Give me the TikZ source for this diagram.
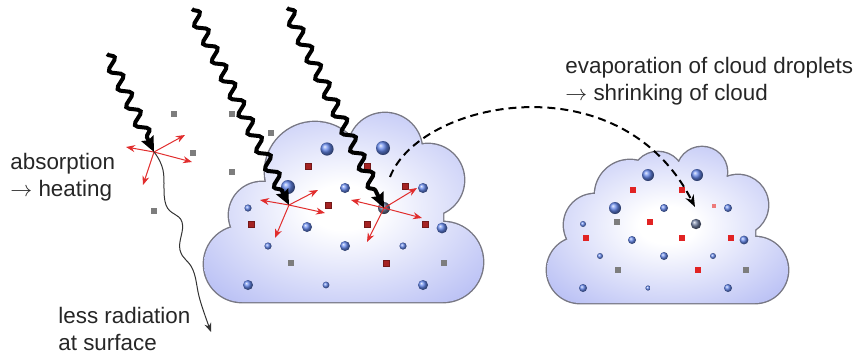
\documentclass[tikz,border=0pt]{standalone}
\usepackage{fontspec}
\setmainfont{Liberation Sans}
\usetikzlibrary{arrows.meta,decorations.pathmorphing}

\definecolor{cloudblue}{RGB}{182,189,244}
\definecolor{cloudedge}{RGB}{120,120,132}
\definecolor{dropblue}{RGB}{100,135,235}
\definecolor{dropgray}{RGB}{110,125,160}
\definecolor{rust}{RGB}{165,35,35}
\definecolor{brightred}{RGB}{225,35,35}
\definecolor{scatred}{RGB}{225,45,45}
\definecolor{aerogray}{RGB}{125,125,125}

\pgfdeclareradialshading{cloudglow}{\pgfpoint{0bp}{0bp}}{%
  color(0bp)=(white); color(6bp)=(white);
  color(34bp)=(cloudblue); color(50bp)=(cloudblue)}

\begin{document}
\begin{tikzpicture}[
  x=0.5pt, y=-0.5pt,
  every node/.style={font=\fontsize{11.2}{13.5}\selectfont, text=black!85, inner sep=0pt},
  note/.style={align=left, anchor=west},
  photon/.style={line width=2pt, decorate,
    decoration={snake, amplitude=2.8pt, segment length=10pt, post length=5pt},
    -{Stealth[length=7.5pt,width=6.5pt,inset=1pt]}},
  scatter/.style={scatred, line width=0.5pt, -{Stealth[length=4.5pt,width=3.5pt]}},
  weakray/.style={black!80, line width=0.5pt, -{Stealth[length=4.5pt,width=3.5pt]}},
  evapline/.style={line width=1pt, dash pattern=on 4pt off 2.5pt,
    -{Stealth[length=6pt,width=4.5pt]}},
  cloudrim/.style={draw=cloudedge, line width=1.4pt},
  cloudfill/.style={shading=cloudglow},
  drop/.style={ball color=dropblue},
  bigcloud/.style={insert path={
    (242,264) circle (19pt) (262,215) circle (16.5pt) (315,172) circle (25pt)
    (385,150) circle (18.5pt) (428,180) circle (18pt) (443,262) circle (20pt)
    (350,220) circle (35pt)
    (242,302) -- (443,302) -- (443,200) -- (242,200) -- cycle}},
  smallcloud/.style={insert path={
    (580,270) circle (16.5pt) (595,225) circle (15.5pt) (630,195) circle (17.5pt)
    (658,178) circle (13pt) (702,172) circle (12.5pt) (738,205) circle (15pt)
    (755,270) circle (16.5pt) (670,230) circle (27.5pt)
    (580,303) -- (755,303) -- (755,210) -- (580,210) -- cycle}}
]
\useasboundingbox (0,0) rectangle (858,355);

% clouds: rim first, shaded body on top of it
\path[cloudrim, bigcloud];
\shade[cloudfill, bigcloud];
\path[cloudrim, smallcloud];
\shade[cloudfill, smallcloud];

% aerosol particles
\foreach \x/\y in {174/114, 232/114, 271/133, 193/153, 232/172, 154/211,
                   291/263, 444/263, 617/222, 618/270, 746/270}
  \fill[aerogray] (\x,\y) +(-1.7pt,-1.7pt) rectangle +(1.7pt,1.7pt);
\foreach \x/\y in {308/166, 367/166, 405/186, 328/205, 251/224, 367/224,
                   425/224, 386/263}
  \fill[rust, draw=rust!70!black, line width=0.3pt] (\x,\y) +(-1.6pt,-1.6pt) rectangle +(1.6pt,1.6pt);
\foreach \x/\y in {633/190, 682/190, 650/222, 586/238, 682/238, 731/238, 698/270}
  \fill[brightred] (\x,\y) +(-1.4pt,-1.4pt) rectangle +(1.4pt,1.4pt);
\fill[brightred!60] (714,206) +(-1.1pt,-1.1pt) rectangle +(1.1pt,1.1pt);

% droplets
\foreach \x/\y/\r in {288/187/3.5, 327/149/3.3, 383/148/3.5, 345/188/2.5,
    423/188/2.5, 248/208/1.8, 307/227/2.5, 442/228/2.7, 268/246/1.8,
    345/246/2.5, 403/246/1.8, 248/285/2.5, 326/285/1.7, 423/285/2.5,
    648/175/3, 697/175/3, 615/208/3, 664/208/2, 728/208/2, 583/224/1.5,
    632/240/2, 744/240/2.2, 600/256/1.5, 664/256/2, 713/256/1.5,
    583/288/2, 648/288/1.3, 728/288/2}
  \shade[drop] (\x,\y) circle (\r pt);
\shade[ball color=dropgray] (384,208) circle (3pt);
\shade[ball color=dropgray] (696,224) circle (2.6pt);

% absorption points and ray ends
\coordinate (src1) at (107,54);
\coordinate (src2) at (192,9);
\coordinate (src3) at (287,8);
\coordinate (hit1) at (154,152);
\coordinate (hit2) at (289,205);
\coordinate (hit3) at (384,208);
\coordinate (surf) at (211,332);
\coordinate (evapfrom) at (390,177);
\coordinate (evapto) at (695,207);

% scattered light
\foreach \x/\y in {126/147, 185/135, 192/162, 143/185}
  \draw[scatter] (hit1) -- (\x,\y);
\foreach \x/\y in {260/200, 318/190, 325/213, 275/238}
  \draw[scatter] (hit2) -- (\x,\y);
\foreach \x/\y in {351/200, 417/188, 422/218, 367/242}
  \draw[scatter] (hit3) -- (\x,\y);

% incoming sunlight
\draw[photon] (src1) -- (hit1);
\draw[photon] (src2) -- (hit2);
\draw[photon] (src3) -- (hit3);

% what is left of it below
\draw[weakray] plot[smooth, tension=0.7] coordinates
  {(hit1) (163,170) (166,205) (182,222) (180,250) (193,270) (200,300) (surf)};

\draw[evapline] (evapfrom) .. controls (420,100) and (620,60) .. (evapto);

\node[note] (absorb) at (10,177) {absorption\\$\rightarrow$ heating};
\node[note] (evap) at (565,81) {evaporation of cloud droplets\\$\rightarrow$ shrinking of cloud};
\node[note] (lessrad) at (58,329) {less radiation\\at surface};
\end{tikzpicture}
\end{document}
